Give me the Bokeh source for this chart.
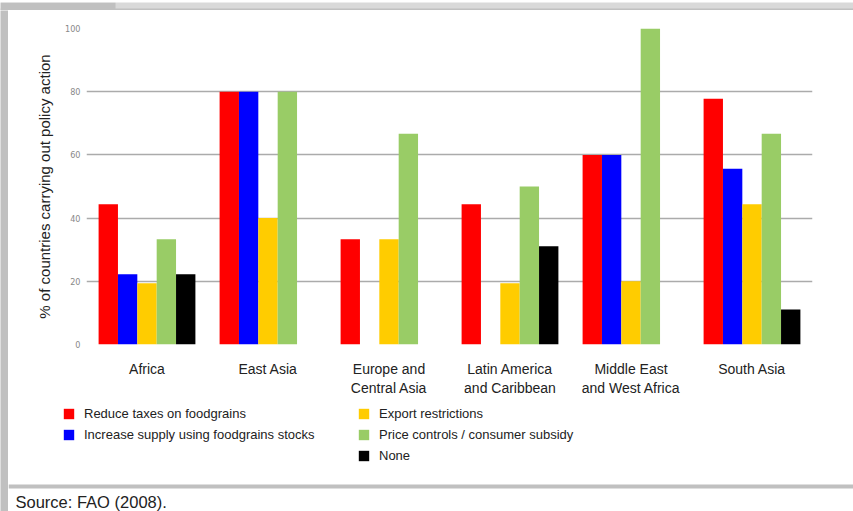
from bokeh.plotting import figure
from bokeh.models import (FactorRange, Range1d, Legend, LegendItem, ColumnDataSource,
                          FixedTicker, Span, Label, BoxAnnotation)
from bokeh.transform import dodge
from bokeh.layouts import column, row
from bokeh.embed import file_html
from bokeh.resources import INLINE

# ---- data ----
regions = ["Africa", "East Asia", "Europe and\nCentral Asia", "Latin America\nand Caribbean",
           "Middle East\nand West Africa", "South Asia"]
series_names = ["Reduce taxes on foodgrains", "Increase supply using foodgrains stocks",
                "Export restrictions", "Price controls / consumer subsidy", "None"]
reduce_taxes = [44.4, 80, 33.3, 44.4, 60, 77.8]
increase_supply = [22.2, 80, 0, 0, 60, 55.6]
export_restrictions = [19.4, 40, 33.3, 19.4, 20, 44.4]
price_controls = [33.3, 80, 66.7, 50, 100, 66.7]
none_action = [22.2, 0, 0, 31.1, 0, 11.1]
y_ticks = [0, 20, 40, 60, 80, 100]
y_label = "% of countries carrying out policy action"
source_note = "Source: FAO (2008)."

colors = ["#ff0000", "#0000ff", "#ffcc00", "#99cc66", "#000000"]
keys = ["reduce", "increase", "export", "price", "none"]
FRAME_GRAY = "#c0c0c0"

src = ColumnDataSource(dict(region=regions, reduce=reduce_taxes, increase=increase_supply,
                            export=export_restrictions, price=price_controls, none=none_action))


def bare(fig, bg="white"):
    fig.outline_line_color = None
    fig.xgrid.grid_line_color = None
    fig.ygrid.grid_line_color = None
    fig.background_fill_color = bg
    fig.border_fill_color = bg
    fig.frame_align = False
    return fig


# ---- top strip ----
top = bare(figure(width=853, height=10, output_backend="svg", toolbar_location=None,
                  x_range=Range1d(0, 853), y_range=Range1d(0, 10),
                  x_axis_location=None, y_axis_location=None, min_border=0), "#d9d9d9")
top.add_layout(BoxAnnotation(left=0, right=115, fill_color=FRAME_GRAY, fill_alpha=1, line_color=None))
top.add_layout(BoxAnnotation(bottom=0, top=4, fill_color=FRAME_GRAY, fill_alpha=1, line_color=None))

# ---- left strip ----
strip = bare(figure(width=8, height=501, output_backend="svg", toolbar_location=None,
                    x_range=Range1d(0, 8), y_range=Range1d(0, 501),
                    x_axis_location=None, y_axis_location=None, min_border=0), FRAME_GRAY)

# ---- main chart ----
p = figure(x_range=FactorRange(*regions, range_padding=0, factor_padding=0),
           y_range=Range1d(0, 100),
           width=845, height=392, output_backend="svg", toolbar_location=None,
           min_border_left=78, min_border_right=41, min_border_top=18, min_border_bottom=58)
p.outline_line_color = None
p.background_fill_color = "white"
p.border_fill_color = "white"
p.frame_align = False

bar_w = 0.16
offsets = [-2 * bar_w, -bar_w, 0, bar_w, 2 * bar_w]
for k, off, c in zip(keys, offsets, colors):
    p.vbar(x=dodge("region", off, range=p.x_range), top=k, width=bar_w, source=src,
           fill_color=c, line_color=None)

p.yaxis.ticker = FixedTicker(ticks=y_ticks)
p.yaxis.axis_line_color = None
p.yaxis.major_tick_line_color = None
p.yaxis.minor_tick_line_color = None
p.yaxis.major_tick_out = 0
p.yaxis.major_tick_in = 0
p.yaxis.major_label_text_font = "Liberation Sans Narrow, DejaVu Sans Condensed"
p.yaxis.major_label_text_font_size = "9px"
p.yaxis.major_label_text_color = "#888888"
p.yaxis.major_label_standoff = 6
p.yaxis.axis_label = y_label
p.yaxis.axis_label_text_font = "Liberation Sans"
p.yaxis.axis_label_text_font_size = "15px"
p.yaxis.axis_label_text_font_style = "normal"
p.yaxis.axis_label_text_color = "#222222"
p.yaxis.axis_label_standoff = 9

p.xaxis.axis_line_color = None
p.xaxis.major_tick_line_color = None
p.xaxis.minor_tick_line_color = None
p.xaxis.major_tick_out = 0
p.xaxis.major_tick_in = 0
p.xaxis.major_label_text_font = "Liberation Sans"
p.xaxis.major_label_text_font_size = "14px"
p.xaxis.major_label_text_color = "#222222"
p.xaxis.major_label_standoff = 16

p.xgrid.grid_line_color = None
p.ygrid.grid_line_color = "#ababab"
p.ygrid.grid_line_width = 1.5

# ---- legend / source panel ----
q = bare(figure(width=845, height=109, output_backend="svg", toolbar_location=None,
                x_range=FactorRange(*regions), y_range=Range1d(0, 109),
                x_axis_location=None, y_axis_location=None, min_border=0))

leg_renderers = [q.vbar(x="region", top=k, width=0.5, source=src, fill_color=c,
                        line_color=None, visible=False)
                 for k, c in zip(keys, colors)]


def make_legend(idx, loc):
    return Legend(items=[LegendItem(label=series_names[i], renderers=[leg_renderers[i]]) for i in idx],
                  location=loc, orientation="vertical", padding=0, margin=0,
                  border_line_color=None, background_fill_alpha=0, inactive_fill_alpha=0,
                  glyph_width=13, glyph_height=13, label_standoff=9, spacing=1, label_height=20,
                  label_text_font="Liberation Sans", label_text_font_size="13px",
                  label_text_color="#222222")


q.add_layout(make_legend([0, 1], (54, 66.5)))
q.add_layout(make_legend([2, 3, 4], (349, 45.5)))
q.add_layout(Span(location=25, dimension="width", line_color=FRAME_GRAY, line_width=4))
q.add_layout(Label(x=7, y=10, x_units="screen", y_units="screen", text=source_note,
                   text_font="Liberation Sans", text_font_size="16.5px", text_color="#222222",
                   text_baseline="alphabetic"))

layout = column(top, row(strip, column(p, q, spacing=0), spacing=0), spacing=0)
open("out.html", "w").write(file_html(layout, INLINE))
